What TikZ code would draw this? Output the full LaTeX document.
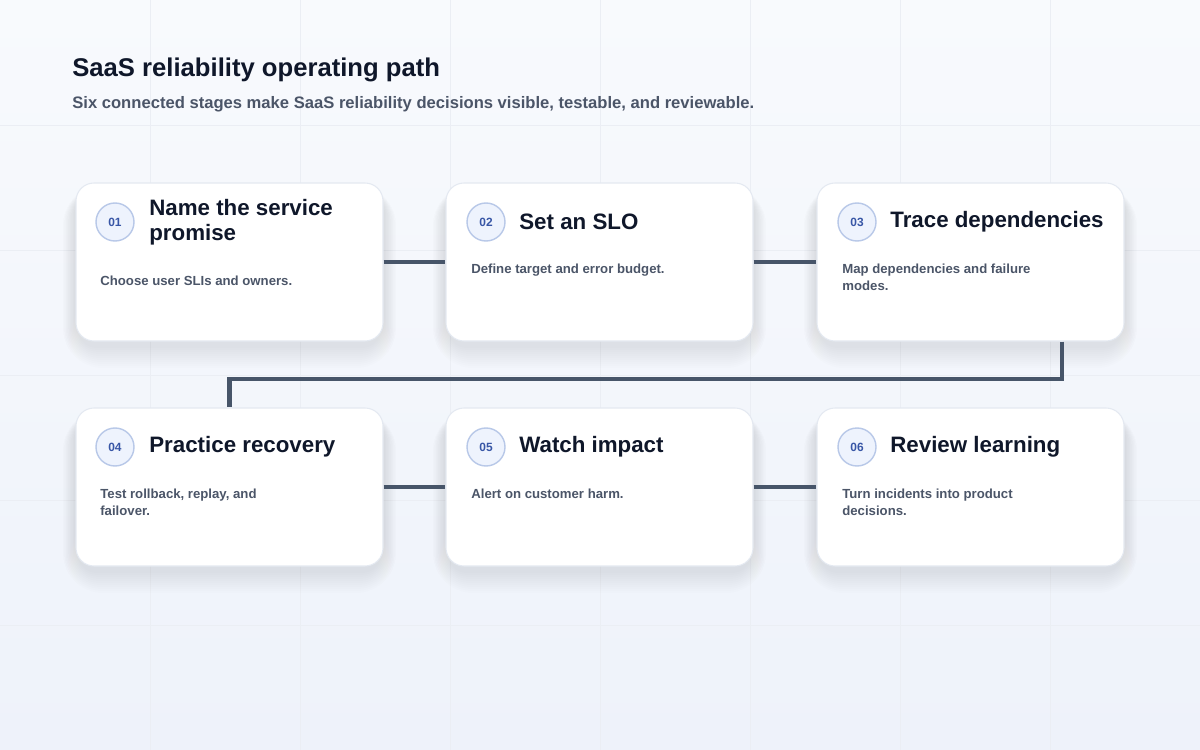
\documentclass[tikz,border=0pt]{standalone}
\usepackage{fontspec}
\setmainfont{Liberation Sans}

\definecolor{ink}{HTML}{0F172A}
\definecolor{slate}{HTML}{4B5568}
\definecolor{wire}{HTML}{475569}
\definecolor{rim}{HTML}{E4E9F1}
\definecolor{badgefill}{HTML}{EEF3FD}
\definecolor{badgerim}{HTML}{B8C8E8}
\definecolor{badgeink}{HTML}{3856A6}
\definecolor{bgtop}{HTML}{F8FAFD}
\definecolor{bgbottom}{HTML}{EEF2FA}
\definecolor{gridline}{HTML}{EBEEF4}
\definecolor{shade}{HTML}{7486B0}

\begin{document}
\begin{tikzpicture}[x=0.02cm, y=-0.02cm]
    \tikzstyle{stage card} = [draw=rim, line width=0.6pt, fill=white, rounded corners=18*0.02cm, minimum width=307*0.02cm, minimum height=158*0.02cm, inner sep=0pt]
    \tikzstyle{stage badge} = [circle, draw=badgerim, line width=0.8pt, fill=badgefill, minimum size=38*0.02cm, inner sep=0pt, text=badgeink, font=\bfseries\fontsize{6.8}{8}\selectfont]
    \tikzstyle{stage title} = [anchor=west, align=left, inner sep=0pt, text=ink, font=\bfseries\fontsize{12.7}{14.5}\selectfont]
    \tikzstyle{stage text} = [anchor=north west, align=left, inner sep=0pt, text=slate, font=\bfseries\fontsize{7.5}{9.6}\selectfont]
    \tikzstyle{stage link} = [draw=wire, line width=2.3pt]
% backdrop
\useasboundingbox (0,0) rectangle (1200,750);
\shade[top color=bgtop, bottom color=bgbottom] (0,0) rectangle (1200,750);
\foreach \gx in {150,300,...,1050} \draw[gridline, line width=0.4pt] (\gx,0) -- (\gx,750);
\foreach \gy in {125,250,...,625} \draw[gridline, line width=0.4pt] (0,\gy) -- (1200,\gy);
% heading
\node[anchor=base west, inner sep=0pt, text=ink, font=\bfseries\fontsize{14.6}{17}\selectfont] (title) at (72,77) {SaaS reliability operating path};
\node[anchor=base west, inner sep=0pt, text=slate, font=\bfseries\fontsize{9.45}{11}\selectfont] (subtitle) at (72,109) {Six connected stages make SaaS reliability decisions visible, testable, and reviewable.};
% soft shadows under the cards
\foreach \cx/\cy in {229.5/262, 599.5/262, 970.5/262, 229.5/487, 599.5/487, 970.5/487}
  \foreach \k in {2,4,...,22}
    \fill[shade, opacity=0.008, rounded corners=(18+\k)*0.02cm] (\cx-151-\k*0.7, \cy-70-\k*0.3) rectangle (\cx+151+\k*0.7, \cy+84+\k);
% cards and links
\coordinate (turn) at (1062,379);
\node[stage card] (c1) at (229.5,262) {};
\node[stage card] (c2) at (599.5,262) {};
\node[stage card] (c3) at (970.5,262) {};
\node[stage card] (c4) at (229.5,487) {};
\node[stage card] (c5) at (599.5,487) {};
\node[stage card] (c6) at (970.5,487) {};
\draw[stage link] (c1) to (c2);
\draw[stage link] (c2) to (c3);
\draw[stage link] (c3.south -| turn) -- (turn) -| (c4.north);
\draw[stage link] (c4) to (c5);
\draw[stage link] (c5) to (c6);
% stage 1
\node[stage badge] (b1) at (115,222) {01};
\node[stage title] (t1) at (149,222) {Name the service\\promise};
\node[stage text] (d1) at (100,276) {Choose user SLIs and owners.};
% stage 2
\node[stage badge] (b2) at (486,222) {02};
\node[stage title] (t2) at (519,222) {Set an SLO};
\node[stage text] (d2) at (471,264) {Define target and error budget.};
% stage 3
\node[stage badge] (b3) at (857,222) {03};
\node[stage title] (t3) at (890,222) {Trace dependencies};
\node[stage text] (d3) at (842,264) {Map dependencies and failure\\modes.};
% stage 4
\node[stage badge] (b4) at (115,447) {04};
\node[stage title] (t4) at (149,447) {Practice recovery};
\node[stage text] (d4) at (100,489) {Test rollback, replay, and\\failover.};
% stage 5
\node[stage badge] (b5) at (486,447) {05};
\node[stage title] (t5) at (519,447) {Watch impact};
\node[stage text] (d5) at (471,489) {Alert on customer harm.};
% stage 6
\node[stage badge] (b6) at (857,447) {06};
\node[stage title] (t6) at (890,447) {Review learning};
\node[stage text] (d6) at (842,489) {Turn incidents into product\\decisions.};
\end{tikzpicture}
\end{document}
